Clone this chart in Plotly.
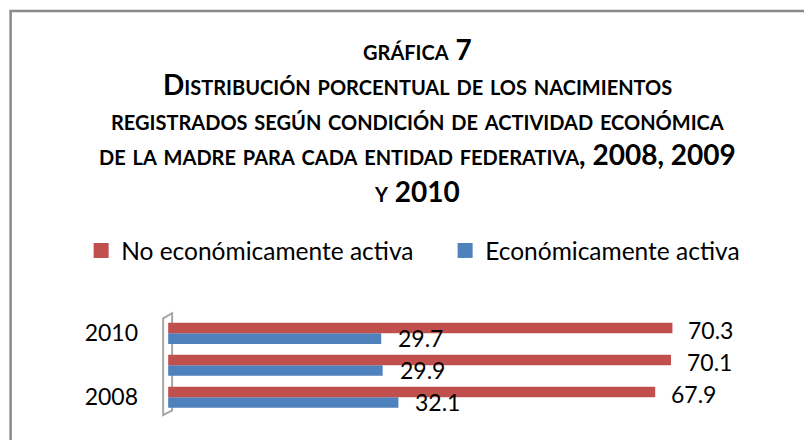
import plotly.graph_objects as go

years = ["2008", "2009", "2010"]
no_activa = [67.9, 70.1, 70.3]
activa = [32.1, 29.9, 29.7]
name_no = "No económicamente activa"
name_si = "Económicamente activa"
tick_years = ["2008", "2010"]

title_lines = [
    "gráfica 7",
    "Distribución porcentual de los nacimientos",
    "registrados según condición de actividad económica",
    "de la madre para cada entidad federativa, 2008, 2009",
    "y 2010",
]

OFF = 8  # default page body margin
W, H = 804, 432
X0, X1 = -1, 80
Y0, Y1 = -0.65, 2.7
L = 160.83 - OFF
R = 70.4
T = 310.6 - OFF
B = 22.2
PW = W - L - R
PH = H - T - B

def px_x(p):
    return (p - OFF - L) / PW

def px_y(p):
    return (H - B - (p - OFF)) / PH

RED = "#C0504D"
BLUE = "#4F81BD"
FONT = "Lato"

fig = go.Figure()
fig.add_trace(go.Bar(y=years, x=activa, name=name_si, orientation="h", showlegend=False,
                     marker=dict(color=BLUE, line=dict(width=0))))
fig.add_trace(go.Bar(y=years, x=no_activa, name=name_no, orientation="h", showlegend=False,
                     marker=dict(color=RED, line=dict(width=0))))
# legend entries with square swatches
fig.add_trace(go.Scatter(x=[None], y=[None], mode="markers", name=name_si,
                         marker=dict(symbol="square", size=15, color=BLUE)))
fig.add_trace(go.Scatter(x=[None], y=[None], mode="markers", name=name_no,
                         marker=dict(symbol="square", size=15, color=RED)))

annotations = []
# category axes take annotation positions as category index
for i, y in enumerate(years):
    annotations.append(dict(x=no_activa[i], y=i, xref="x", yref="y", text=f"{no_activa[i]:.1f}",
                            showarrow=False, xanchor="left", yanchor="middle",
                            xshift=14, yshift=3, font=dict(family=FONT, size=23, color="#000")))
    annotations.append(dict(x=activa[i], y=i, xref="x", yref="y", text=f"{activa[i]:.1f}",
                            showarrow=False, xanchor="left", yanchor="middle",
                            xshift=15, yshift=-5, font=dict(family=FONT, size=23, color="#000")))

baselines = [58, 93, 128, 163, 200]
for line, bl in zip(title_lines, baselines):
    annotations.append(dict(x=px_x(417), y=px_y(bl - 10), xref="paper", yref="paper",
                            text=line, showarrow=False, xanchor="center", yanchor="middle",
                            font=dict(family=FONT, size=28, color="#000", weight="bold",
                                      variant="small-caps")))

shapes = [
    # outer chart frame
    dict(type="rect", xref="paper", yref="paper", x0=px_x(10.5), x1=px_x(900),
         y0=px_y(520), y1=px_y(10), line=dict(color="#8a8a8a", width=2.5), fillcolor="rgba(0,0,0,0)"),
    # 3D back wall edge
    dict(type="path", xref="x", yref="y",
         path="M -0.7,2.47 L 0.55,2.63 L 0.55,-0.41 L -0.7,-0.56 Z",
         line=dict(color="#a6a6a6", width=2), fillcolor="rgba(255,255,255,0)", layer="below"),
]

fig.update_layout(
    width=W, height=H,
    margin=dict(l=L, r=R, t=T, b=B, autoexpand=False),
    paper_bgcolor="white", plot_bgcolor="white",
    barmode="group", bargap=0.34, bargroupgap=0,
    showlegend=True,
    legend=dict(orientation="h", traceorder="reversed", x=px_x(81), y=px_y(250),
                xanchor="left", yanchor="middle", font=dict(family=FONT, size=24.5, color="#000"),
                entrywidth=319, entrywidthmode="pixels", bgcolor="rgba(0,0,0,0)"),
    xaxis=dict(range=[X0, X1], showticklabels=False, ticks="", showgrid=False,
               zeroline=False, showline=False),
    yaxis=dict(range=[Y0, Y1], type="category", categoryorder="array", categoryarray=years,
               tickmode="array", tickvals=tick_years, ticktext=tick_years,
               showgrid=False, zeroline=False, showline=False, ticks="",
               ticklabelstandoff=22, tickfont=dict(family=FONT, size=23, color="#000")),
    annotations=annotations,
    shapes=shapes,
    font=dict(family=FONT),
)

fig.write_html("out.html")
